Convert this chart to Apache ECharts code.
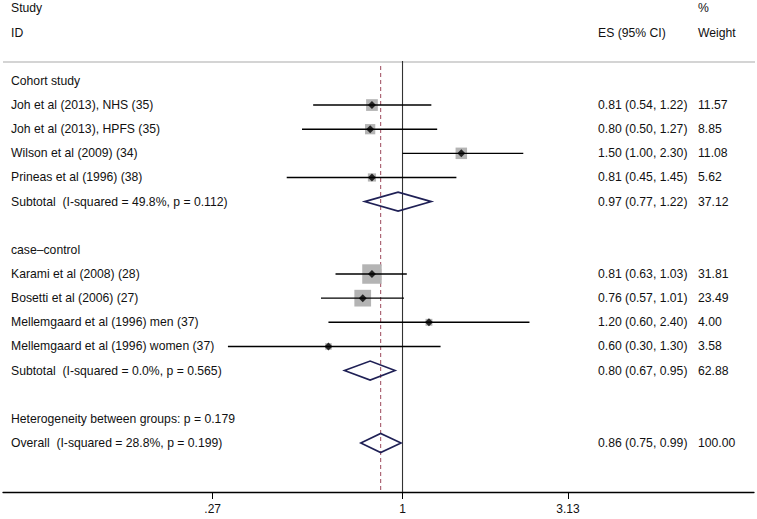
<!DOCTYPE html>
<html><head><meta charset="utf-8">
<script src="https://cdn.jsdelivr.net/npm/echarts@6/dist/echarts.min.js"></script>
<style>html,body{margin:0;padding:0;background:#fff}#c{width:757px;height:519px}</style>
</head><body><div id="c"></div>
<script>
// ---- Header texts ----
const headerRows = [0, 1];
const headerLeft = ['Study', 'ID'];
const headerES = ['', 'ES (95% CI)'];
const headerWeight = ['%', 'Weight'];

// ---- Group headings / notes ----
const groupLabels = ['Cohort study', 'case\u2013control', 'Heterogeneity between groups: p = 0.179'];
const groupRows = [3, 10, 17];

// ---- Individual studies ----
const studyNames = [
  'Joh et al (2013), NHS (35)',
  'Joh et al (2013), HPFS (35)',
  'Wilson et al (2009) (34)',
  'Prineas et al (1996) (38)',
  'Karami et al (2008) (28)',
  'Bosetti et al (2006) (27)',
  'Mellemgaard et al (1996) men (37)',
  'Mellemgaard et al (1996) women (37)'
];
const studyRows = [4, 5, 6, 7, 11, 12, 13, 14];
const studyES = [0.81, 0.80, 1.50, 0.81, 0.81, 0.76, 1.20, 0.60];
const studyLow = [0.54, 0.50, 1.00, 0.45, 0.63, 0.57, 0.60, 0.30];
const studyHigh = [1.22, 1.27, 2.30, 1.45, 1.03, 1.01, 2.40, 1.30];
const studyWeight = [11.57, 8.85, 11.08, 5.62, 31.81, 23.49, 4.00, 3.58];

// ---- Pooled estimates ----
const pooledNames = [
  'Subtotal\u00a0 (I-squared = 49.8%, p = 0.112)',
  'Subtotal\u00a0 (I-squared = 0.0%, p = 0.565)',
  'Overall\u00a0 (I-squared = 28.8%, p = 0.199)'
];
const pooledRows = [8, 15, 18];
const pooledES = [0.97, 0.80, 0.86];
const pooledLow = [0.77, 0.67, 0.75];
const pooledHigh = [1.22, 0.95, 0.99];
const pooledWeight = [37.12, 62.88, 100.00];

// ---- Axis ----
const nullValue = 1;
const tickValues = [0.27, 1, 3.13];
const tickLabels = ['.27', '1', '3.13'];
const xMin = 0.0636, xMax = 11.29;
const yMin = -0.352, yMax = 20.03;
const plotTopRow = 2.216;

const FONT = '12.2px "Liberation Sans", Arial, Helvetica, sans-serif';
const TXT = '#111111';

// Build text table
const textTable = [];
headerRows.forEach((r, i) => textTable.push({row: r, left: headerLeft[i], es: headerES[i], w: headerWeight[i]}));
groupRows.forEach((r, i) => textTable.push({row: r, left: groupLabels[i], es: '', w: ''}));
studyRows.forEach((r, i) => textTable.push({
  row: r, left: studyNames[i],
  es: studyES[i].toFixed(2) + ' (' + studyLow[i].toFixed(2) + ', ' + studyHigh[i].toFixed(2) + ')',
  w: studyWeight[i].toFixed(2)
}));
pooledRows.forEach((r, i) => textTable.push({
  row: r, left: pooledNames[i],
  es: pooledES[i].toFixed(2) + ' (' + pooledLow[i].toFixed(2) + ', ' + pooledHigh[i].toFixed(2) + ')',
  w: pooledWeight[i].toFixed(2)
}));

const studyData = studyRows.map((r, i) => [studyES[i], r, studyLow[i], studyHigh[i], studyWeight[i]]);
const pooledData = pooledRows.map((r, i) => [pooledES[i], r, pooledLow[i], pooledHigh[i], pooledWeight[i]]);
const overallES = pooledES[pooledES.length - 1];

function textEl(x, y, text, align) {
  return {
    type: 'text', x: x, y: y,
    style: {text: text, font: FONT, fill: TXT, align: align, verticalAlign: 'middle',
            textAlign: align, textVerticalAlign: 'middle'}
  };
}

const chart = echarts.init(document.getElementById('c'), null, {renderer: 'svg'});
chart.setOption({
  animation: false,
  backgroundColor: '#fff',
  grid: {left: 3, right: 3, top: 0, bottom: 27},
  xAxis: {
    type: 'log', logBase: 10, min: xMin, max: xMax, position: 'bottom',
    axisLine: {show: true, onZero: false, lineStyle: {color: '#000', width: 1.3}},
    axisTick: {show: true, customValues: tickValues, length: 7, lineStyle: {color: '#000', width: 1}},
    axisLabel: {
      show: true, customValues: tickValues, margin: 11, color: TXT, fontSize: 12,
      fontFamily: '"Liberation Sans", Arial, sans-serif',
      formatter: function (v) {
        let best = 0, bd = Infinity;
        tickValues.forEach((t, i) => { const d = Math.abs(Math.log(v) - Math.log(t)); if (d < bd) { bd = d; best = i; } });
        return tickLabels[best];
      }
    },
    splitLine: {show: false}
  },
  yAxis: {type: 'value', inverse: true, min: yMin, max: yMax, show: false},
  series: [
    { // separator + reference lines
      type: 'custom', name: 'reference', silent: true,
      data: [[nullValue, plotTopRow, 0], [overallES, plotTopRow, 1]],
      encode: {x: 0, y: 1},
      renderItem: function (params, api) {
        const cs = params.coordSys;
        const top = api.coord([api.value(0), api.value(1)]);
        const bottom = cs.y + cs.height;
        const kind = api.value(2);
        const children = [];
        if (params.dataIndex === 0) {
          children.push({type: 'line', shape: {x1: cs.x, y1: top[1], x2: cs.x + cs.width + 1, y2: top[1]},
            style: {stroke: '#d4d4d4', lineWidth: 2}});
        }
        if (kind === 0) {
          children.push({type: 'line', shape: {x1: top[0], y1: top[1] - 1, x2: top[0], y2: bottom},
            style: {stroke: '#333', lineWidth: 1.1}});
        } else {
          children.push({type: 'line', shape: {x1: top[0], y1: top[1] + 4, x2: top[0], y2: bottom},
            style: {stroke: '#a5596a', lineWidth: 1.1, lineDash: [4, 3]}});
        }
        return {type: 'group', children: children};
      }
    },
    { // weight boxes
      type: 'custom', name: 'weight boxes', silent: true,
      data: studyData, encode: {x: 0, y: 1},
      renderItem: function (params, api) {
        const c = api.coord([api.value(0), api.value(1)]);
        const s = 3.45 * Math.sqrt(api.value(4));
        return {type: 'rect', shape: {x: c[0] - s / 2, y: c[1] - s / 2, width: s, height: s},
          style: {fill: '#b4b4b4'}};
      }
    },
    { // confidence intervals
      type: 'custom', name: '95% CI', silent: true,
      data: studyData, encode: {x: 0, y: 1},
      renderItem: function (params, api) {
        const y = api.value(1);
        const a = api.coord([api.value(2), y]);
        const b = api.coord([api.value(3), y]);
        return {type: 'line', shape: {x1: a[0], y1: a[1], x2: b[0], y2: b[1]},
          style: {stroke: '#000', lineWidth: 1.4}};
      }
    },
    { // point estimates
      type: 'scatter', name: 'ES', silent: true,
      data: studyData.map(d => [d[0], d[1]]),
      symbol: 'diamond', symbolSize: 8,
      itemStyle: {color: '#000'}
    },
    { // pooled diamonds
      type: 'custom', name: 'pooled', silent: true,
      data: pooledData, encode: {x: 0, y: 1},
      renderItem: function (params, api) {
        const y = api.value(1);
        const c = api.coord([api.value(0), y]);
        const l = api.coord([api.value(2), y]);
        const h = api.coord([api.value(3), y]);
        const hh = 9.5;
        return {type: 'polygon', shape: {points: [[l[0], c[1]], [c[0], c[1] - hh], [h[0], c[1]], [c[0], c[1] + hh]]},
          style: {fill: 'none', stroke: '#1f2055', lineWidth: 1.6}};
      }
    },
    { // text columns
      type: 'custom', name: 'text', silent: true,
      data: textTable.map(t => [nullValue, t.row]), encode: {x: 0, y: 1},
      renderItem: function (params, api) {
        const t = textTable[params.dataIndex];
        const y = api.coord([nullValue, api.value(1)])[1];
        const children = [];
        if (t.left) children.push(textEl(11, y, t.left, 'left'));
        if (t.es) children.push(textEl(598, y, t.es, 'left'));
        if (t.w) children.push(textEl(698, y, t.w, 'left'));
        return {type: 'group', children: children};
      }
    }
  ]
});
</script>
</body></html>
